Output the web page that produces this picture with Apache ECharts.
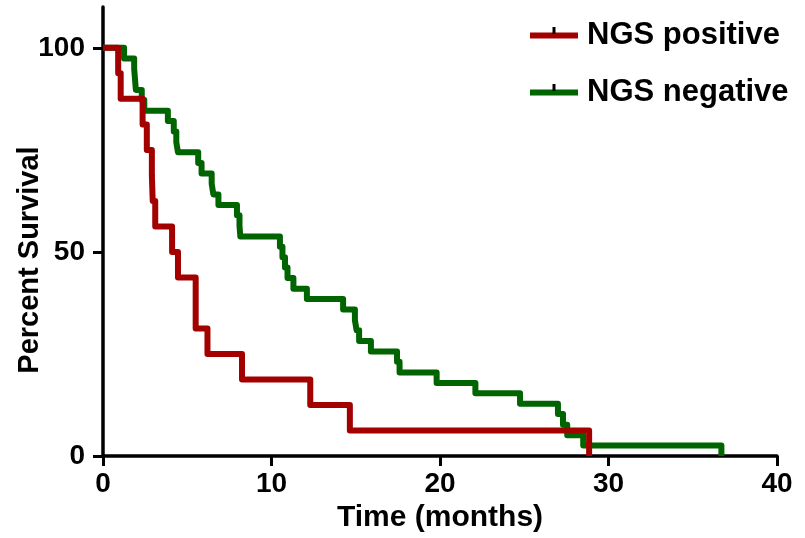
<!DOCTYPE html>
<html>
<head>
<meta charset="utf-8">
<script src="https://cdn.jsdelivr.net/npm/echarts@6/dist/echarts.min.js"></script>
<style>
html,body{margin:0;padding:0;background:#fff;}
#chart{width:805px;height:538px;}
</style>
</head>
<body>
<div id="chart"></div>
<script>
// Kaplan-Meier step data (time in months, percent survival)
const posName = 'NGS positive';
const posTime = [0, 0.9, 1.05, 2.35, 2.6, 2.9, 2.95, 3.1, 4.1, 4.45, 5.5, 5.5, 6.2, 8.25, 12.3, 14.65, 28.85];
const posSurv = [100, 93.75, 87.5, 81.25, 75, 68.75, 62.5, 56.25, 50, 43.75, 37.5, 31.25, 25, 18.75, 12.5, 6.25, 0];

const negName = 'NGS negative';
const negTime = [0, 1.25, 1.85, 1.9, 1.95, 2.3, 2.45, 3.85, 4.2, 4.35, 4.45, 5.65, 5.85, 6.45, 6.55, 6.85, 7.95, 8.1, 8.15,
                 10.5, 10.65, 10.8, 10.95, 11.3, 12.1, 14.25, 14.95, 15.05, 15.2, 15.9, 17.45, 17.6, 19.8, 22.1, 24.75,
                 27.0, 27.3, 27.55, 28.5, 36.7];
const negSurv = [100, 97.4, 94.9, 92.3, 89.7, 87.2, 84.6, 82.1, 79.5, 76.9, 74.4, 71.8, 69.2, 66.7, 64.1, 61.5, 59.0, 56.4, 53.8,
                 51.3, 48.7, 46.2, 43.6, 41.0, 38.5, 35.9, 33.3, 30.8, 28.2, 25.6, 23.1, 20.5, 17.9, 15.4, 12.8,
                 10.3, 7.7, 5.1, 2.6, 0];

const xTicks = [0, 10, 20, 30, 40];
const yTicks = [0, 50, 100];
const xTitle = 'Time (months)';
const yTitle = 'Percent Survival';

const zip = (a, b) => a.map((v, i) => [v, b[i]]);
const FONT = 'Liberation Sans, Arial, sans-serif';

const chart = echarts.init(document.getElementById('chart'), null, {renderer: 'canvas'});
chart.setOption({
  animation: false,
  backgroundColor: '#fff',
  grid: {left: 103, right: 28, top: 7, bottom: 80},
  legend: {
    data: [posName, negName],
    orient: 'vertical',
    left: 525,
    top: 15,
    itemWidth: 48,
    itemHeight: 6,
    itemGap: 26,
    icon: 'rect',
    selectedMode: false,
    textStyle: {fontFamily: FONT, fontWeight: 'bold', fontSize: 31, color: '#000', padding: [0, 0, 0, 4]}
  },
  graphic: [
    {type: 'line', shape: {x1: 554, y1: 27, x2: 554, y2: 34}, style: {stroke: '#000', lineWidth: 3}, z: 100},
    {type: 'line', shape: {x1: 554, y1: 84, x2: 554, y2: 91}, style: {stroke: '#000', lineWidth: 3}, z: 100},
    {type: 'text', x: 30, y: 260, rotation: Math.PI / 2,
     style: {text: yTitle, fontFamily: FONT, fontWeight: 'bold', fontSize: 29, fill: '#000',
             textAlign: 'center', textVerticalAlign: 'middle'}}
  ],
  xAxis: {
    type: 'value',
    min: xTicks[0], max: xTicks[xTicks.length - 1], interval: 10,
    name: xTitle, nameLocation: 'middle', nameGap: 44,
    nameTextStyle: {fontFamily: FONT, fontWeight: 'bold', fontSize: 30, color: '#000'},
    axisLine: {show: true, lineStyle: {color: '#000', width: 3.5}},
    axisTick: {show: true, length: 10, lineStyle: {color: '#000', width: 3}},
    axisLabel: {fontFamily: FONT, fontWeight: 'bold', fontSize: 28, color: '#000', margin: 14},
    splitLine: {show: false}
  },
  yAxis: {
    type: 'value',
    min: 0, max: 110,
    axisLine: {show: true, lineStyle: {color: '#000', width: 3.5}},
    axisTick: {show: true, length: 10, customValues: yTicks, lineStyle: {color: '#000', width: 3}},
    axisLabel: {fontFamily: FONT, fontWeight: 'bold', fontSize: 28, color: '#000', margin: 18, customValues: yTicks},
    splitLine: {show: false}
  },
  series: [
    {
      name: negName, type: 'line', step: 'end', data: zip(negTime, negSurv),
      showSymbol: false, symbol: 'none', color: '#006400',
      lineStyle: {color: '#006400', width: 6, join: 'round'}, z: 2, clip: false
    },
    {
      name: posName, type: 'line', step: 'end', data: zip(posTime, posSurv),
      showSymbol: false, symbol: 'none', color: '#a30000',
      lineStyle: {color: '#a30000', width: 6, join: 'round'}, z: 3, clip: false
    }
  ]
});
</script>
</body>
</html>
